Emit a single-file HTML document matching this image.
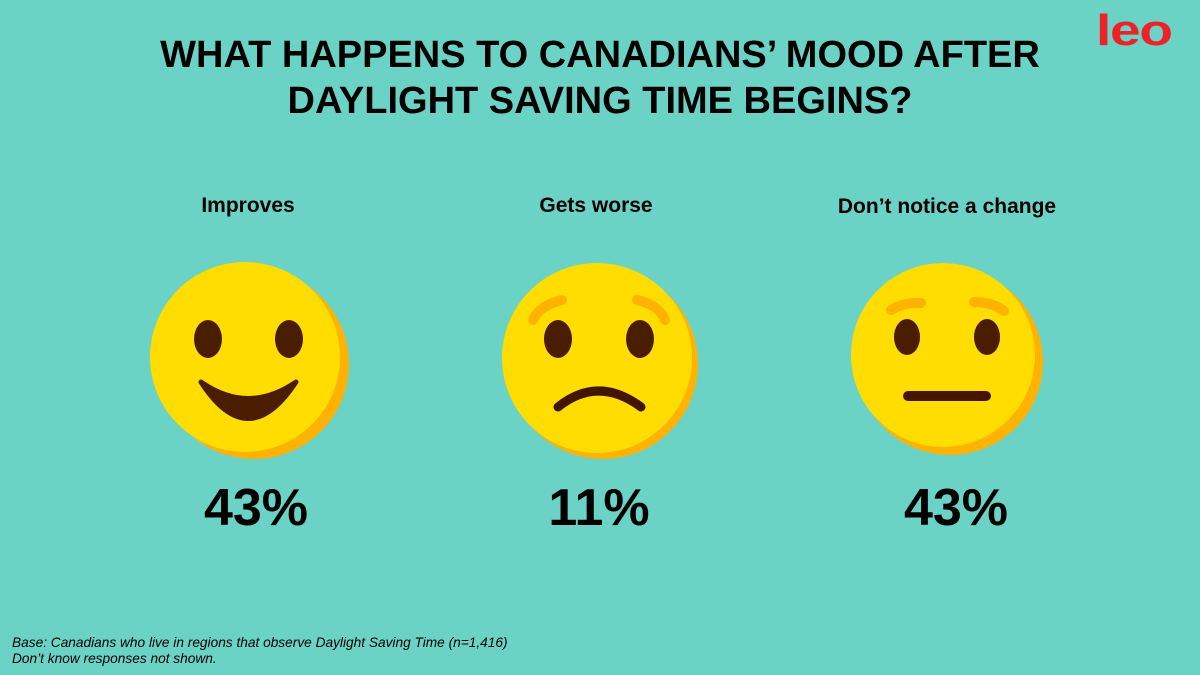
<!DOCTYPE html>
<html><head><meta charset="utf-8"><style>
html,body{margin:0;padding:0}
body{width:1200px;height:675px;background:#6AD3C5;position:relative;overflow:hidden;font-family:"Liberation Sans",Arial,sans-serif;color:#000}
.t{position:absolute;left:0;width:1200px;text-align:center;font-weight:bold;font-size:38px;line-height:46px;top:32px}
.l{position:absolute;font-weight:bold;font-size:21px;text-align:center;width:300px}
.p{position:absolute;font-weight:bold;font-size:52px;text-align:center;width:300px}
.f{position:absolute;left:12px;top:635px;font-size:13.7px;font-style:italic;line-height:16px}
</style></head><body>
<div class="t">WHAT HAPPENS TO CANADIANS’ MOOD AFTER<br>DAYLIGHT SAVING TIME BEGINS?</div>
<div style="position:absolute;left:1096px;top:4px;font-weight:bold;font-size:44px;line-height:54px;color:#EE2129;transform:scaleX(1.25);transform-origin:left top;letter-spacing:-1px">leo</div>
<div class="l" style="left:98px;top:194px">Improves</div>
<div class="l" style="left:446px;top:194px">Gets worse</div>
<div class="l" style="left:797px;top:195px">Don’t notice a change</div>
<div class="p" style="left:106px;top:478px">43%</div>
<div class="p" style="left:449px;top:478px">11%</div>
<div class="p" style="left:806px;top:478px">43%</div>
<svg width="1200" height="675" style="position:absolute;left:0;top:0">
<g>
<circle cx="254" cy="364" r="95" fill="#FFB300"/>
<circle cx="245" cy="357" r="95" fill="#FFDD00"/>
<ellipse cx="208" cy="339" rx="14" ry="19" fill="#4A1C00"/>
<ellipse cx="289" cy="339" rx="14" ry="19" fill="#4A1C00"/>
<path d="M201 382 Q248 455 296 382 Q248 415 201 382Z" fill="#4A1C00" stroke="#4A1C00" stroke-width="5" stroke-linejoin="round"/>
</g>
<g>
<circle cx="603" cy="364" r="95" fill="#FFB300"/>
<circle cx="597" cy="358" r="95" fill="#FFDD00"/>
<path d="M533 320 Q540 305 562 300" stroke="#FFB300" stroke-width="10" fill="none" stroke-linecap="round"/>
<path d="M637 300 Q659 305 665 320" stroke="#FFB300" stroke-width="10" fill="none" stroke-linecap="round"/>
<ellipse cx="558" cy="339" rx="14" ry="19" fill="#4A1C00"/>
<ellipse cx="640" cy="339" rx="14" ry="19" fill="#4A1C00"/>
<path d="M558 407 Q598 375 641 407" stroke="#431500" stroke-width="9" fill="none" stroke-linecap="round"/>
</g>
<g>
<circle cx="950" cy="362" r="93" fill="#FFB300"/>
<circle cx="943" cy="355" r="92" fill="#FFDD00"/>
<path d="M891 310 Q904 302 921 303" stroke="#FFB300" stroke-width="10" fill="none" stroke-linecap="round"/>
<path d="M974 302 Q992 302 1004 311" stroke="#FFB300" stroke-width="10" fill="none" stroke-linecap="round"/>
<ellipse cx="907" cy="337" rx="13" ry="18" fill="#4A1C00"/>
<ellipse cx="987" cy="337" rx="13" ry="18" fill="#4A1C00"/>
<path d="M908 396 L986 396" stroke="#431500" stroke-width="10" stroke-linecap="round"/>
</g>
</svg>
<div class="f">Base: Canadians who live in regions that observe Daylight Saving Time (n=1,416)<br>Don’t know responses not shown.</div>
</body></html>
